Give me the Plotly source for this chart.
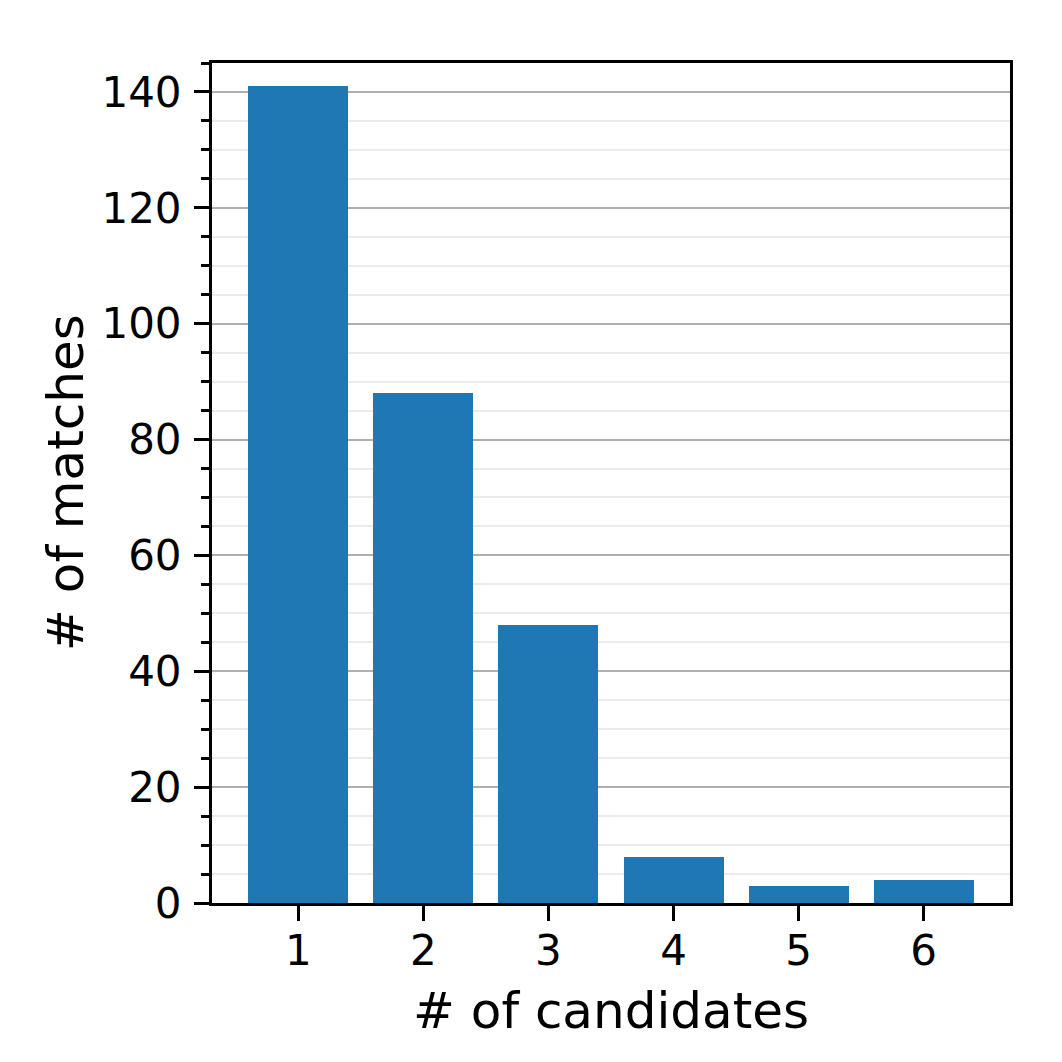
import plotly.graph_objects as go

candidates = [1, 2, 3, 4, 5, 6]
matches = [141, 88, 48, 8, 3, 4]
x_ticks = [1, 2, 3, 4, 5, 6]
y_ticks = [0, 20, 40, 60, 80, 100, 120, 140]
x_title = "# of candidates"
y_title = "# of matches"

FONT = "DejaVu Sans"

fig = go.Figure()
fig.add_trace(go.Bar(x=candidates, y=matches, width=0.8, marker=dict(color="#1f77b4", line=dict(width=0))))

fig.update_layout(
    width=1046, height=1046,
    margin=dict(l=204, r=44, t=55, b=151, autoexpand=False),
    paper_bgcolor="white", plot_bgcolor="white",
    font=dict(family=FONT, size=42, color="black"),
    showlegend=False,
    bargap=0,
)
fig.update_xaxes(
    range=[0.31, 6.69], tickvals=x_ticks, ticktext=[str(v) for v in x_ticks],
    showline=True, mirror=True, linecolor="black", linewidth=3,
    ticks="outside", ticklen=15, tickwidth=3, tickcolor="black",
    showgrid=False, zeroline=False, automargin=False,
    ticklabelstandoff=-6,
)
fig.update_yaxes(
    range=[0, 145], tickvals=y_ticks, ticktext=[str(v) for v in y_ticks],
    showline=True, mirror=True, linecolor="black", linewidth=3,
    ticks="outside", ticklen=15, tickwidth=3, tickcolor="black",
    showgrid=True, gridcolor="#b0b0b0", gridwidth=1.5, zeroline=False, automargin=False,
    ticklabelstandoff=4,
    minor=dict(dtick=5, tick0=0, ticks="outside", ticklen=8, tickwidth=3, tickcolor="black",
               showgrid=True, gridcolor="#ebebeb", gridwidth=1.5),
)
fig.add_annotation(text=x_title, xref="paper", yref="paper", x=0.5, y=0,
                   xanchor="center", yanchor="middle", yshift=-108, showarrow=False,
                   font=dict(size=50, family=FONT, color="black"))
fig.add_annotation(text=y_title, xref="paper", yref="paper", x=0, y=0.5,
                   xanchor="center", yanchor="middle", xshift=-146, textangle=-90, showarrow=False,
                   font=dict(size=50, family=FONT, color="black"))

fig.write_html("out.html")
